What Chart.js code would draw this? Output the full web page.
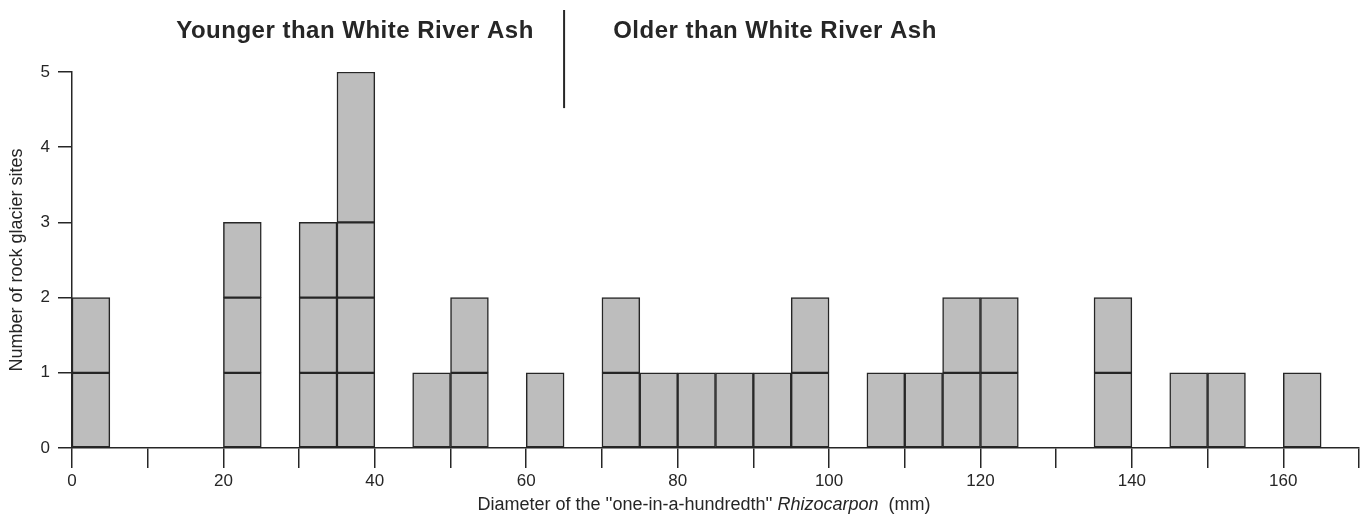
<!DOCTYPE html>
<html>
<head>
<meta charset="utf-8">
<script src="https://cdn.jsdelivr.net/npm/chart.js@4/dist/chart.umd.min.js"></script>
<style>
  html, body { margin: 0; padding: 0; background: #fff; }
  #wrap { width: 1363px; height: 519px; position: relative; }
</style>
</head>
<body>
<div id="wrap"><canvas id="hist"></canvas></div>
<script>
// bin centres (mm), 5 mm bins
var binCenters = [2.5, 22.5, 32.5, 37.5, 47.5, 52.5, 62.5, 72.5, 77.5, 82.5, 87.5, 92.5, 97.5,
                  107.5, 112.5, 117.5, 122.5, 137.5, 147.5, 152.5, 162.5];
// boxes stacked in each bin (sites per box); the 35-40 bin has a double box on top
var boxes = [[1,1], [1,1,1], [1,1,1], [1,1,1,2], [1], [1,1], [1], [1,1], [1], [1], [1], [1], [1,1],
             [1], [1], [1,1], [1,1], [1,1], [1], [1], [1]];
var xTicks = [0, 20, 40, 60, 80, 100, 120, 140, 160];
var ashBoundary = 65;
var headLeft = "Younger than White River Ash";
var headRight = "Older than White River Ash";

var ink = '#262626';
var fill = '#bdbdbd';
var fam = '"Liberation Sans", Arial, sans-serif';

// one dataset per layer so each box gets its own outline
var layers = 0;
for (var i = 0; i < boxes.length; i++) layers = Math.max(layers, boxes[i].length);
var datasets = [];
for (var k = 0; k < layers; k++) {
    var pts = [];
    for (var j = 0; j < binCenters.length; j++) {
        if (boxes[j].length > k) pts.push({x: binCenters[j], y: boxes[j][k]});
    }
    datasets.push({
        data: pts,
        backgroundColor: fill,
        borderColor: ink,
        borderWidth: 1.5,
        borderSkipped: false,
        barPercentage: 1,
        categoryPercentage: 1
    });
}

var extras = {
    id: 'extras',
    afterDraw: function(chart) {
        var c = chart.ctx;
        var xs = chart.scales.x, ys = chart.scales.y;
        c.save();
        c.fillStyle = ink;
        c.strokeStyle = ink;
        // ash divider
        var dx = xs.getPixelForValue(ashBoundary);
        c.lineWidth = 2;
        c.beginPath();
        c.moveTo(dx, 10);
        c.lineTo(dx, ys.getPixelForValue(4.52));
        c.stroke();
        // headings
        c.font = 'bold 24px ' + fam;
        c.letterSpacing = '0.5px';
        c.textBaseline = 'middle';
        c.textAlign = 'center';
        c.fillText(headLeft, 355, 31);
        c.fillText(headRight, 775, 31);
        c.letterSpacing = '0px';
        // x title with italic genus
        var a = "Diameter of the ''one-in-a-hundredth'' ";
        var b = "Rhizocarpon";
        var d = "  (mm)";
        var nf = '18px ' + fam;
        var itf = 'italic 18px ' + fam;
        c.font = nf; var wa = c.measureText(a).width, wd = c.measureText(d).width;
        c.font = itf; var wb = c.measureText(b).width;
        var x0 = 704 - (wa + wb + wd) / 2;
        c.textAlign = 'left';
        c.font = nf; c.fillText(a, x0, 505);
        c.font = itf; c.fillText(b, x0 + wa, 505);
        c.font = nf; c.fillText(d, x0 + wa + wb, 505);
        c.restore();
    }
};

new Chart(document.getElementById('hist'), {
    type: 'bar',
    data: { datasets: datasets },
    options: {
        responsive: true,
        maintainAspectRatio: false,
        animation: false,
        layout: { padding: { top: 72, right: 4, left: 0, bottom: 0 } },
        plugins: { legend: { display: false }, tooltip: { enabled: false } },
        scales: {
            x: {
                type: 'linear',
                stacked: true,
                offset: false,
                min: 0,
                max: 170,
                afterFit: function(s) { s.height = 71; },
                afterBuildTicks: function(s) {
                    var t = [];
                    for (var v = 0; v <= 170; v += 10) t.push({value: v});
                    s.ticks = t;
                },
                ticks: {
                    autoSkip: false,
                    maxRotation: 0,
                    padding: 3,
                    color: ink,
                    font: { family: fam, size: 17 },
                    callback: function(v) { return xTicks.indexOf(v) >= 0 ? String(v) : ''; }
                },
                grid: { offset: false, drawOnChartArea: false, tickLength: 20, color: ink, lineWidth: 1.5 },
                border: { display: true, color: ink, width: 1.5 }
            },
            y: {
                stacked: true,
                min: 0,
                max: 5,
                afterFit: function(s) { s.width = 72; },
                ticks: {
                    stepSize: 1,
                    padding: 8,
                    color: ink,
                    font: { family: fam, size: 17 }
                },
                grid: { drawOnChartArea: false, tickLength: 14, color: ink, lineWidth: 1.5 },
                border: { display: true, color: ink, width: 1.5 },
                title: {
                    display: true,
                    text: 'Number of rock glacier sites',
                    color: ink,
                    padding: { top: 6, bottom: 0 },
                    font: { family: fam, size: 18 }
                }
            }
        }
    },
    plugins: [extras]
});
</script>
</body>
</html>
